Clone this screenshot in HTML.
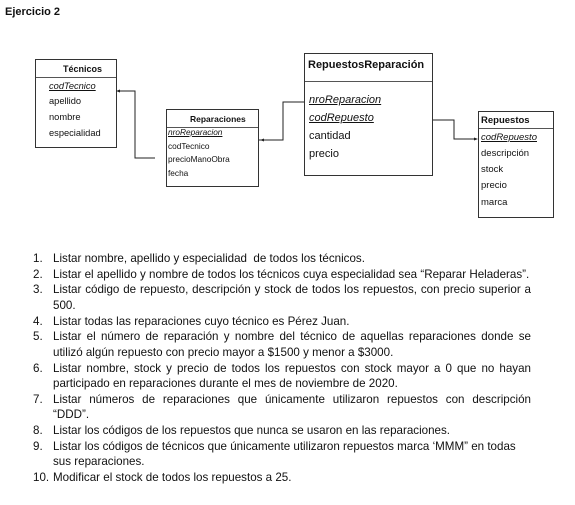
<!DOCTYPE html>
<html><head><meta charset="utf-8"><style>
body{margin:0;width:575px;height:505px;background:#fff;position:relative;overflow:hidden;font-family:"Liberation Sans",sans-serif;color:#111}
.a{position:absolute;white-space:nowrap}
.box{position:absolute;border:1px solid #333;box-sizing:border-box}
.hl{position:absolute;height:1px;background:#555}
u{text-decoration:underline}
.l{position:absolute;left:53px;font-size:11.6px;white-space:nowrap;line-height:14px}
.j{width:478px;text-align:justify;text-align-last:justify;white-space:normal}
.n{position:absolute;left:33px;font-size:11.6px;line-height:14px}
</style></head><body>
<div class="a" style="left:5px;top:6px;font-size:11px;font-weight:bold">Ejercicio 2</div>

<!-- Tecnicos -->
<div class="box" style="left:35px;top:59px;width:82px;height:89px"></div>
<div class="hl" style="left:36px;top:77px;width:80px"></div>
<div class="a" style="left:63px;top:64px;font-size:9px;font-weight:bold">Técnicos</div>
<div class="a" style="left:49px;top:81px;font-size:9.3px;font-style:italic"><u>codTecnico</u></div>
<div class="a" style="left:49px;top:96px;font-size:9.3px">apellido</div>
<div class="a" style="left:49px;top:112px;font-size:9.3px">nombre</div>
<div class="a" style="left:49px;top:128px;font-size:9.3px">especialidad</div>

<!-- Reparaciones -->
<div class="box" style="left:166px;top:109px;width:93px;height:78px"></div>
<div class="hl" style="left:167px;top:127px;width:91px"></div>
<div class="a" style="left:190px;top:114px;font-size:8.5px;font-weight:bold">Reparaciones</div>
<div class="a" style="left:168px;top:127px;font-size:8.3px;font-style:italic"><u>nroReparacion</u></div>
<div class="a" style="left:168px;top:141px;font-size:8.3px">codTecnico</div>
<div class="a" style="left:168px;top:154px;font-size:8.3px">precioManoObra</div>
<div class="a" style="left:168px;top:168px;font-size:8.3px">fecha</div>

<!-- RepuestosReparacion -->
<div class="box" style="left:304px;top:53px;width:129px;height:123px"></div>
<div class="hl" style="left:305px;top:81px;width:127px"></div>
<div class="a" style="left:308px;top:59px;font-size:11px;font-weight:bold">RepuestosReparación</div>
<div class="a" style="left:309px;top:94px;font-size:11px;font-style:italic"><u>nroReparacion</u></div>
<div class="a" style="left:309px;top:112px;font-size:11px;font-style:italic"><u>codRepuesto</u></div>
<div class="a" style="left:309px;top:130px;font-size:11px">cantidad</div>
<div class="a" style="left:309px;top:148px;font-size:11px">precio</div>

<!-- Repuestos -->
<div class="box" style="left:478px;top:111px;width:76px;height:107px"></div>
<div class="hl" style="left:479px;top:128px;width:74px"></div>
<div class="a" style="left:481px;top:115px;font-size:9.5px;font-weight:bold">Repuestos</div>
<div class="a" style="left:481px;top:132px;font-size:9.5px;font-style:italic"><u>codRepuesto</u></div>
<div class="a" style="left:481px;top:148px;font-size:9.5px">descripción</div>
<div class="a" style="left:481px;top:164px;font-size:9.5px">stock</div>
<div class="a" style="left:481px;top:180px;font-size:9.5px">precio</div>
<div class="a" style="left:481px;top:197px;font-size:9.5px">marca</div>

<svg class="a" style="left:0;top:0" width="575" height="505">
<g stroke="#222" stroke-width="1" fill="none">
<polyline points="155,158 135,158 135,91 118,91"/>
<polyline points="259,140 283,140 283,102 304,102"/>
<polyline points="433,120 454,120 454,139 474,139"/>
</g>
<polygon points="116,91 120,89.5 120,92.5" fill="#222"/>
<polygon points="260,140 264,138.5 264,141.5" fill="#222"/>
<polygon points="478,139 474,137.5 474,140.5" fill="#222"/>
</svg>

<div class="n" style="top:252px">1.</div><div class="l" style="top:252px">Listar nombre, apellido y especialidad &nbsp;de todos los técnicos.</div>
<div class="n" style="top:268px">2.</div><div class="l" style="top:268px">Listar el apellido y nombre de todos los técnicos cuya especialidad sea “Reparar Heladeras”.</div>
<div class="n" style="top:283px">3.</div><div class="l j" style="top:283px">Listar código de repuesto, descripción y stock de todos los repuestos, con precio superior a</div>
<div class="l" style="top:299px">500.</div>
<div class="n" style="top:315px">4.</div><div class="l" style="top:315px">Listar todas las reparaciones cuyo técnico es Pérez Juan.</div>
<div class="n" style="top:330px">5.</div><div class="l j" style="top:330px">Listar el número de reparación y nombre del técnico de aquellas reparaciones donde se</div>
<div class="l" style="top:346px">utilizó algún repuesto con precio mayor a $1500 y menor a $3000.</div>
<div class="n" style="top:362px">6.</div><div class="l j" style="top:362px">Listar nombre, stock y precio de todos los repuestos con stock mayor a 0 que no hayan</div>
<div class="l" style="top:377px">participado en reparaciones durante el mes de noviembre de 2020.</div>
<div class="n" style="top:393px">7.</div><div class="l j" style="top:393px">Listar números de reparaciones que únicamente utilizaron repuestos con descripción</div>
<div class="l" style="top:408px">“DDD”.</div>
<div class="n" style="top:424px">8.</div><div class="l" style="top:424px">Listar los códigos de los repuestos que nunca se usaron en las reparaciones.</div>
<div class="n" style="top:440px">9.</div><div class="l" style="top:440px">Listar los códigos de técnicos que únicamente utilizaron repuestos marca ‘MMM” en todas</div>
<div class="l" style="top:455px">sus reparaciones.</div>
<div class="n" style="top:471px">10.</div><div class="l" style="top:471px">Modificar el stock de todos los repuestos a 25.</div>
</body></html>
